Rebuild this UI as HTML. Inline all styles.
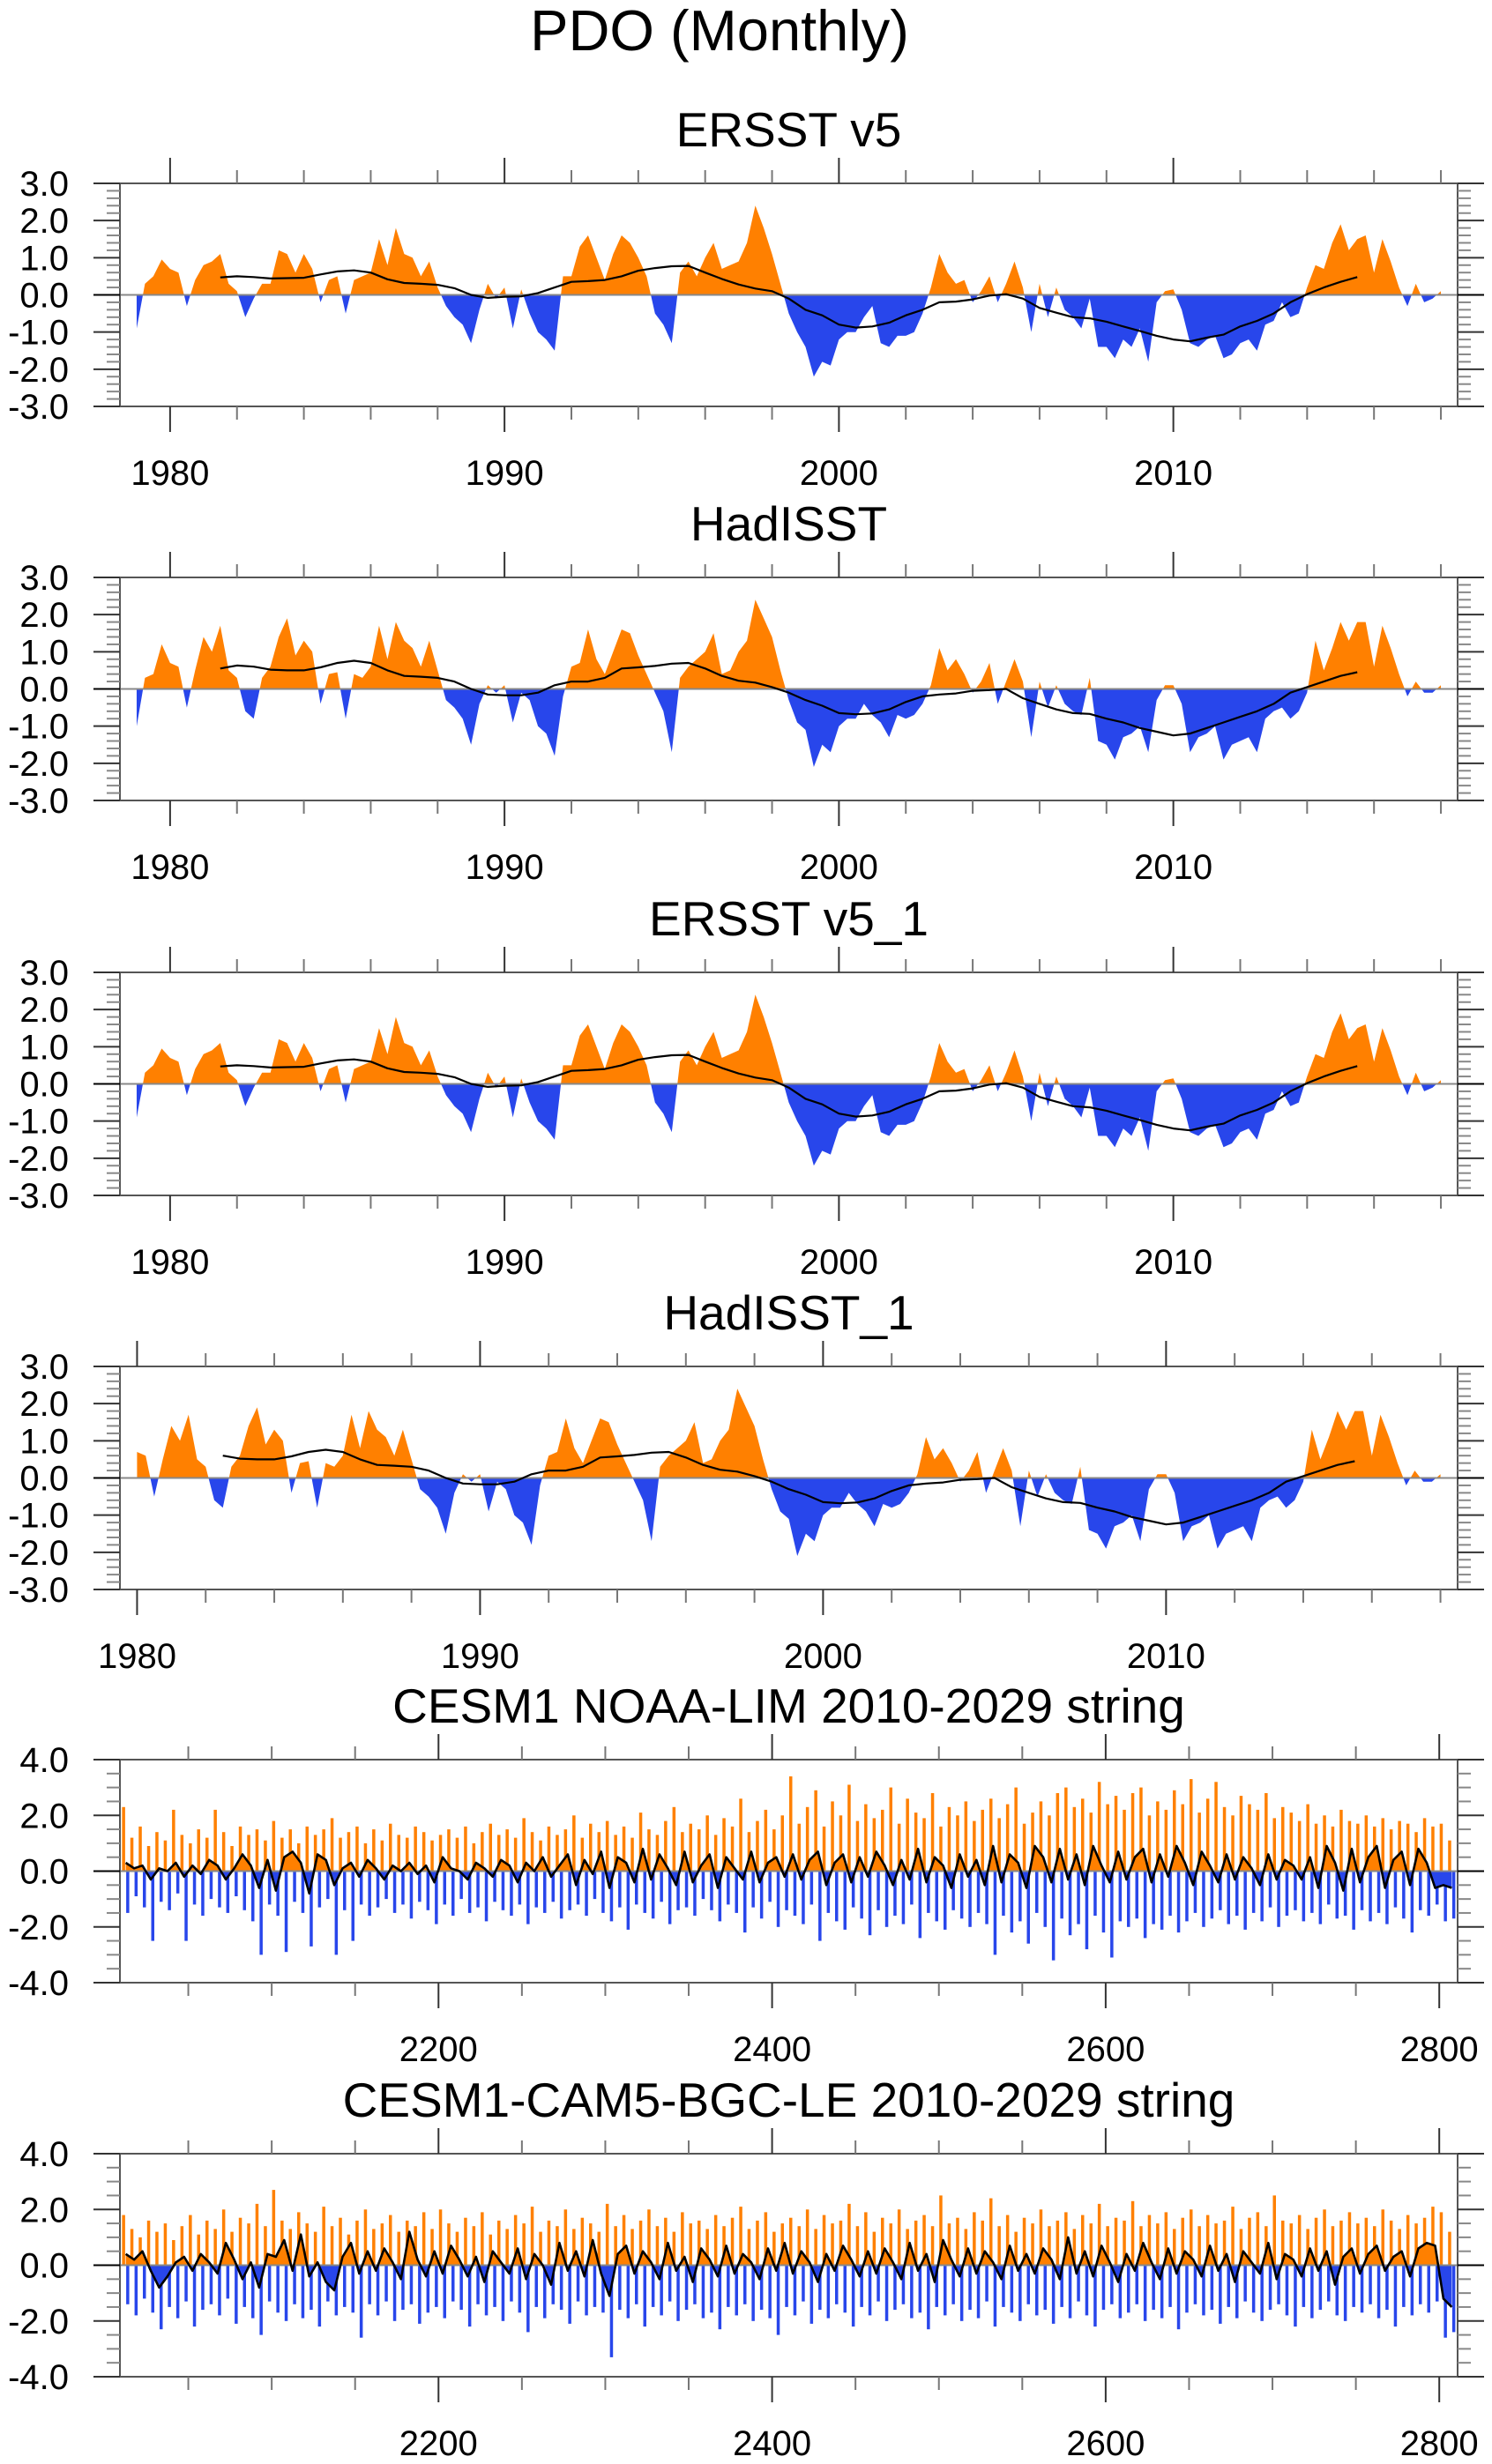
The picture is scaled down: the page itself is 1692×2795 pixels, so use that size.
<!DOCTYPE html>
<html><head><meta charset="utf-8"><title>PDO (Monthly)</title>
<style>html,body{margin:0;padding:0;background:#fff}svg{display:block;font-family:"Liberation Sans",Arial,sans-serif}</style>
</head><body>
<svg id="fig" width="1692" height="2795" viewBox="0 0 1692 2795" xmlns="http://www.w3.org/2000/svg">
<text x="816" y="57" font-size="65" text-anchor="middle" fill="#000">PDO (Monthly)</text>
</svg>
<script>
// ---------- Observational data (quarterly samples, 1979.0 onward) ----------
const ersstStart = 1979.0;
const ersstValues = [-0.9,0.3,0.5,0.95,0.7,0.6,-0.3,0.4,0.8,0.9,1.1,0.3,0.1,-0.6,-0.1,0.3,0.3,1.2,1.1,0.6,1.1,0.7,-0.2,0.4,0.5,-0.5,0.4,0.5,0.6,1.5,0.8,1.8,1.1,1.0,0.5,0.9,0.2,-0.3,-0.6,-0.8,-1.3,-0.4,0.3,-0.1,0.2,-0.9,0.15,-0.5,-1.0,-1.2,-1.5,0.5,0.5,1.3,1.6,1.0,0.4,1.1,1.6,1.4,1.0,0.5,-0.5,-0.8,-1.3,0.6,0.9,0.5,1.0,1.4,0.7,0.8,0.9,1.4,2.4,1.8,1.1,0.3,-0.5,-1.0,-1.4,-2.2,-1.8,-1.9,-1.2,-1.0,-1.0,-0.6,-0.3,-1.3,-1.4,-1.1,-1.1,-1.0,-0.5,0.2,1.1,0.6,0.3,0.4,-0.2,0.1,0.5,-0.2,0.3,0.9,0.2,-1.0,0.3,-0.6,0.2,-0.4,-0.6,-0.9,-0.1,-1.4,-1.4,-1.7,-1.2,-1.4,-0.9,-1.8,-0.2,0.1,0.15,-0.4,-1.3,-1.4,-1.2,-1.1,-1.7,-1.6,-1.3,-1.2,-1.5,-0.8,-0.7,-0.2,-0.6,-0.5,0.2,0.8,0.7,1.4,1.9,1.2,1.5,1.6,0.6,1.5,0.9,0.2,-0.3,0.3,-0.2,-0.1,0.1];
const ersstSmoothStart = 1981.5;
const ersstSmooth = [0.47,0.5,0.48,0.44,0.45,0.46,0.55,0.63,0.66,0.6,0.42,0.32,0.3,0.27,0.18,0.0,-0.08,-0.05,-0.04,0.05,0.2,0.35,0.37,0.4,0.5,0.65,0.72,0.77,0.78,0.6,0.43,0.28,0.17,0.1,-0.1,-0.4,-0.55,-0.8,-0.88,-0.85,-0.75,-0.55,-0.4,-0.2,-0.18,-0.12,-0.02,0.02,-0.1,-0.35,-0.48,-0.6,-0.63,-0.72,-0.85,-0.97,-1.1,-1.2,-1.25,-1.15,-1.07,-0.85,-0.7,-0.5,-0.2,0.02,0.2,0.35,0.48];
const hadStart = 1979.0;
const hadValues = [-1.0,0.3,0.4,1.2,0.7,0.6,-0.5,0.5,1.4,1.0,1.7,0.5,0.3,-0.6,-0.8,0.3,0.6,1.4,1.9,0.9,1.3,1.0,-0.4,0.4,0.45,-0.8,0.4,0.3,0.6,1.7,0.8,1.8,1.3,1.1,0.6,1.3,0.5,-0.3,-0.5,-0.8,-1.5,-0.4,0.1,-0.1,0.1,-0.9,-0.1,-0.3,-1.0,-1.2,-1.8,-0.2,0.6,0.7,1.6,0.8,0.4,1.0,1.6,1.5,0.9,0.4,-0.1,-0.6,-1.7,0.3,0.6,0.8,1.0,1.5,0.4,0.5,1.0,1.3,2.4,1.9,1.4,0.5,-0.3,-0.9,-1.1,-2.1,-1.5,-1.7,-1.0,-0.8,-0.8,-0.4,-0.7,-0.9,-1.3,-0.7,-0.8,-0.7,-0.4,0.1,1.1,0.5,0.8,0.4,-0.1,0.2,0.7,-0.4,0.2,0.8,0.2,-1.3,0.2,-0.5,0.1,-0.4,-0.6,-0.7,0.3,-1.4,-1.5,-1.9,-1.3,-1.2,-1.0,-1.7,-0.3,0.1,0.1,-0.4,-1.7,-1.3,-1.2,-1.0,-1.9,-1.5,-1.4,-1.3,-1.7,-0.8,-0.6,-0.5,-0.8,-0.6,-0.1,1.3,0.5,1.1,1.8,1.3,1.8,1.8,0.6,1.7,1.1,0.4,-0.2,0.2,-0.1,-0.1,0.1];
const hadSmoothStart = 1981.5;
const hadSmooth = [0.55,0.63,0.6,0.52,0.5,0.5,0.58,0.7,0.76,0.7,0.5,0.35,0.33,0.3,0.2,0.0,-0.15,-0.17,-0.17,-0.1,0.1,0.2,0.2,0.3,0.55,0.58,0.62,0.68,0.7,0.55,0.35,0.22,0.17,0.05,-0.1,-0.3,-0.45,-0.65,-0.68,-0.66,-0.55,-0.35,-0.2,-0.15,-0.12,-0.05,-0.03,0.0,-0.25,-0.4,-0.55,-0.65,-0.67,-0.8,-0.9,-1.05,-1.15,-1.25,-1.2,-1.05,-0.9,-0.75,-0.6,-0.4,-0.1,0.05,0.2,0.35,0.45];
const yearTickLabels = ["1980","1990","2000","2010"];
const obsYTickLabels = ["3.0","2.0","1.0","0.0","-1.0","-2.0","-3.0"];

// ---------- Model data (5-year bins from 2010) ----------
const modelStart = 2010;
const limPos = [2.3,1.2,1.6,0.9,1.4,1.1,2.2,1.3,1.0,1.5,1.2,2.2,1.4,0.9,1.6,1.3,1.5,1.1,1.8,1.2,1.5,1.0,1.6,1.3,1.5,1.9,1.2,1.4,1.6,1.0,1.5,1.1,1.7,1.3,1.2,1.6,1.4,1.1,1.3,1.5,
1.2,1.6,1.0,1.4,1.7,1.3,1.5,1.2,1.9,1.4,1.1,1.6,1.3,1.5,2.0,1.2,1.7,1.4,1.8,1.3,1.6,1.2,2.1,1.5,1.3,1.8,2.3,1.4,1.7,1.5,2.0,1.3,1.9,1.6,2.6,1.4,1.8,2.2,1.5,2.0,
3.4,1.7,2.3,2.9,1.6,2.5,2.0,3.1,1.8,2.4,1.9,2.2,3.0,1.7,2.6,2.1,1.9,2.8,1.6,2.3,2.0,2.5,1.8,2.2,2.6,1.9,2.4,3.0,1.7,2.1,2.5,2.0,2.8,3.0,2.3,2.6,2.1,3.2,2.4,2.7,
2.2,2.8,3.0,2.0,2.5,2.2,2.9,2.4,3.3,2.1,2.6,3.2,2.3,2.0,2.7,2.4,2.2,2.8,1.9,2.3,2.1,1.8,2.4,1.7,2.0,1.6,2.2,1.8,1.7,2.0,1.6,1.9,1.5,1.8,1.7,1.4,1.9,1.6,1.7,1.1];
const limNeg = [-1.5,-0.9,-1.3,-2.5,-1.1,-1.4,-0.8,-2.5,-1.2,-1.6,-1.0,-1.3,-1.5,-0.9,-1.4,-1.8,-3.0,-1.2,-1.6,-2.9,-1.1,-1.5,-2.7,-1.3,-1.0,-3.0,-1.4,-2.5,-1.2,-1.6,-1.3,-1.0,-1.5,-1.2,-1.7,-1.1,-1.4,-1.9,-1.2,-1.6,
-1.0,-1.5,-1.3,-1.8,-1.1,-1.4,-1.6,-1.2,-1.9,-1.3,-1.5,-1.1,-1.7,-1.4,-1.2,-1.6,-1.0,-1.5,-1.8,-1.3,-2.1,-1.2,-1.5,-1.7,-1.1,-1.9,-1.4,-1.3,-1.6,-1.0,-1.4,-1.8,-1.2,-1.5,-2.2,-1.3,-1.7,-1.1,-2.0,-1.4,
-1.6,-1.9,-1.2,-2.5,-1.5,-1.8,-2.1,-1.3,-1.7,-2.3,-1.4,-2.0,-1.6,-1.9,-1.2,-2.4,-1.5,-1.8,-2.1,-1.4,-1.7,-2.0,-1.5,-1.9,-3.0,-1.6,-2.2,-1.8,-2.6,-1.5,-2.0,-3.2,-1.7,-2.3,-1.9,-2.8,-1.6,-2.2,-3.1,-1.8,
-2.0,-1.7,-2.4,-1.9,-2.1,-1.6,-2.2,-1.8,-1.5,-2.0,-1.7,-1.4,-1.9,-1.6,-2.1,-1.5,-1.8,-1.3,-2.0,-1.6,-1.4,-1.8,-1.5,-1.9,-1.2,-1.7,-1.6,-2.1,-1.4,-1.8,-1.5,-1.9,-1.3,-1.7,-2.2,-1.4,-1.6,-1.2,-1.8,-1.7];
const limSmooth = [0.3,0.1,0.2,-0.3,0.1,0.0,0.3,-0.2,0.2,-0.1,0.4,0.2,-0.3,0.1,0.6,0.2,-0.6,0.4,-0.7,0.5,0.7,0.3,-0.8,0.6,0.4,-0.5,0.1,0.3,-0.2,0.4,0.1,-0.3,0.2,0.0,0.3,-0.1,0.2,-0.4,0.5,0.1,
0.0,-0.3,0.3,0.1,-0.2,0.4,0.2,-0.4,0.3,0.0,0.5,-0.2,0.2,0.6,-0.5,0.4,-0.1,0.7,-0.6,0.5,0.3,-0.4,0.8,-0.3,0.6,0.1,-0.5,0.7,-0.4,0.2,0.6,-0.6,0.5,0.1,-0.3,0.7,-0.4,0.3,0.5,-0.2,
0.6,-0.3,0.4,0.7,-0.5,0.3,0.6,-0.4,0.5,-0.2,0.7,0.2,-0.5,0.4,-0.3,0.8,-0.4,0.5,0.2,-0.6,0.6,-0.2,0.4,-0.5,0.9,-0.4,0.6,0.3,-0.6,0.9,0.5,-0.4,0.8,-0.3,0.6,-0.5,0.9,0.2,-0.4,0.7,
-0.3,0.5,0.8,-0.4,0.6,-0.2,0.9,0.3,-0.5,0.7,0.2,-0.4,0.6,-0.3,0.5,0.1,-0.5,0.6,-0.3,0.4,0.2,-0.3,0.5,-0.6,0.9,0.3,-0.7,0.8,-0.4,0.5,0.9,-0.6,0.4,0.7,-0.5,0.8,0.3,-0.6,-0.5,-0.6];
const bgcPos = [1.8,1.3,1.0,1.6,1.2,1.5,0.9,1.4,1.8,1.1,1.6,1.3,2.0,1.2,1.7,1.5,2.2,1.4,2.7,1.6,1.3,1.9,1.5,1.2,2.1,1.4,1.7,1.1,1.6,2.0,1.3,1.5,1.8,1.2,1.6,1.4,1.9,1.3,2.0,1.5,
1.2,1.7,1.4,1.9,1.1,1.6,1.3,1.8,1.5,2.1,1.2,1.6,1.4,2.0,1.3,1.7,1.5,1.2,2.2,1.4,1.8,1.3,1.6,2.0,1.4,1.7,1.2,1.9,1.5,1.6,1.3,1.8,1.4,1.7,2.1,1.3,1.6,1.9,1.2,1.5,
1.7,1.4,2.0,1.3,1.8,1.5,1.6,2.2,1.4,1.9,1.2,1.7,1.5,2.0,1.3,1.6,1.8,1.4,2.5,1.5,1.7,1.3,1.9,1.6,2.4,1.4,1.8,1.2,1.7,1.5,2.0,1.4,1.6,1.9,1.3,1.8,1.5,2.2,1.4,1.7,
1.6,2.3,1.4,1.8,1.5,1.9,1.3,1.7,2.0,1.4,1.8,1.5,1.6,2.1,1.3,1.7,1.9,1.4,2.5,1.6,1.5,1.8,1.3,1.7,2.0,1.4,1.6,1.9,1.5,1.7,1.4,2.0,1.6,1.3,1.8,1.5,1.7,2.1,1.9,1.2];
const bgcNeg = [-1.4,-1.8,-1.2,-1.7,-2.3,-1.5,-1.9,-1.3,-2.2,-1.6,-1.4,-1.8,-1.2,-2.1,-1.5,-1.9,-2.5,-1.3,-1.7,-2.0,-1.4,-1.9,-1.6,-2.2,-1.3,-1.8,-1.5,-1.7,-2.6,-1.4,-1.8,-1.3,-2.0,-1.6,-1.4,-2.1,-1.7,-1.5,-1.9,-1.3,
-1.6,-2.2,-1.4,-1.8,-1.5,-2.0,-1.3,-1.7,-2.4,-1.5,-1.9,-1.4,-1.6,-2.1,-1.3,-1.8,-1.5,-1.7,-3.3,-1.6,-1.9,-1.4,-2.2,-1.5,-1.8,-1.3,-2.0,-1.6,-1.4,-1.9,-1.7,-2.3,-1.5,-1.8,-1.4,-2.0,-1.6,-1.9,-2.5,-1.5,
-1.8,-1.3,-2.1,-1.6,-1.9,-1.4,-1.7,-2.2,-1.5,-1.8,-1.3,-2.0,-1.6,-1.4,-1.9,-1.7,-2.3,-1.5,-1.8,-1.4,-2.0,-1.6,-1.9,-1.3,-2.2,-1.5,-1.7,-2.0,-1.4,-1.8,-1.6,-2.1,-1.5,-1.9,-1.3,-1.8,-2.2,-1.6,-1.4,-1.9,
-1.7,-1.4,-2.0,-1.6,-1.9,-1.5,-2.3,-1.7,-1.4,-1.8,-1.6,-2.1,-1.5,-1.9,-1.3,-1.7,-2.0,-1.6,-1.4,-1.8,-2.2,-1.5,-1.9,-1.6,-1.3,-1.8,-2.0,-1.5,-1.7,-1.4,-1.9,-1.6,-2.2,-1.5,-1.8,-1.4,-1.7,-1.3,-2.6,-2.4];
const bgcSmooth = [0.4,0.2,0.5,-0.2,-0.8,-0.4,0.1,0.3,-0.2,0.4,0.1,-0.3,0.8,0.2,-0.5,0.1,-0.8,0.4,0.3,0.9,-0.2,1.1,-0.4,0.1,-0.6,-0.9,0.3,0.8,-0.3,0.5,-0.2,0.6,0.1,-0.5,1.2,0.2,-0.4,0.5,-0.3,0.7,
0.2,-0.4,0.3,-0.6,0.5,0.1,-0.3,0.6,-0.5,0.4,0.0,-0.7,0.8,-0.2,0.5,-0.4,0.9,-0.3,-1.1,0.4,0.7,-0.3,0.5,0.1,-0.5,0.8,-0.2,0.3,-0.6,0.6,0.2,-0.4,0.7,-0.3,0.4,0.1,-0.5,0.6,-0.2,0.8,
-0.3,0.5,0.1,-0.6,0.4,-0.2,0.7,0.2,-0.4,0.5,-0.3,0.6,0.1,-0.5,0.8,-0.2,0.4,-0.6,0.9,0.2,-0.4,0.6,-0.3,0.5,0.1,-0.5,0.7,-0.2,0.4,-0.3,0.6,0.2,-0.5,1.0,-0.3,0.5,-0.4,0.7,0.1,-0.6,
0.4,-0.2,0.8,0.1,-0.5,0.6,-0.3,0.5,0.2,-0.4,0.7,-0.2,0.4,-0.6,0.5,0.1,-0.3,0.8,-0.5,0.4,0.2,-0.4,0.6,-0.2,0.5,-0.7,0.3,0.6,-0.3,0.4,0.7,-0.2,0.3,0.5,-0.4,0.6,0.8,0.7,-1.2,-1.5];
const modelXTickLabels = ["2200","2400","2600","2800"];
const modelYTickLabels = ["4.0","2.0","0.0","-2.0","-4.0"];

const NS = "http://www.w3.org/2000/svg";
const svg = document.getElementById("fig");
const ORANGE = "#FF8000", BLUE = "#2846EB";
const L = 136, R = 1653, H = 253;

function mk(tag, attrs, parent) {
  const e = document.createElementNS(NS, tag);
  for (const k in attrs) e.setAttribute(k, attrs[k]);
  parent.appendChild(e);
  return e;
}

function drawPanel(p) {
  const T = p.top, B = T + H;
  const g = mk("g", {}, svg);
  
  
  const xs = v => L + (v - p.x0) / (p.x1 - p.x0) * (R - L);
  const ys = v => T + (p.y1 - v) / (p.y1 - p.y0) * H;
  const z = ys(0);
  const id = p.name;

  const title = mk("text", {x: (L + R) / 2, y: T - 42, "font-size": 55, "text-anchor": "middle", fill: "#000"}, g);
  
  
  title.textContent = p.title;

  const defs = mk("defs", {}, g);
  const cu = mk("clipPath", {id: id + "-up"}, defs);
  mk("rect", {x: L, y: T, width: R - L, height: z - T}, cu);
  const cd = mk("clipPath", {id: id + "-dn"}, defs);
  mk("rect", {x: L, y: z, width: R - L, height: B - z}, cd);

  if (p.type === "obs") {
    let pts = [];
    p.values.forEach((v, i) => { const t = p.start + i * 0.25; if (t >= p.dataFrom) pts.push([xs(t), ys(v)]); });
    const d = "M" + pts[0][0] + "," + z + " " + pts.map(q => "L" + q[0].toFixed(1) + "," + q[1].toFixed(1)).join(" ") + " L" + pts[pts.length - 1][0] + "," + z + "Z";
    const up = mk("path", {d: d, fill: ORANGE, "clip-path": "url(#" + id + "-up)"}, g);
    
    
    const dn = mk("path", {d: d, fill: BLUE, "clip-path": "url(#" + id + "-dn)"}, g);
    
    
  } else {
    p.pos.forEach((v, i) => {
      const x = xs(p.start + i * 5);
      const r = mk("rect", {x: (x + 0.5).toFixed(1), y: ys(v).toFixed(1), width: 3.5, height: (z - ys(v)).toFixed(1), fill: ORANGE}, g);
      
      
    });
    p.neg.forEach((v, i) => {
      const x = xs(p.start + i * 5 + 2.5);
      const r = mk("rect", {x: (x + 0.5).toFixed(1), y: z, width: 3.5, height: (ys(v) - z).toFixed(1), fill: BLUE}, g);
      
      
    });
    const sp = p.smooth.map((v, i) => [xs(p.start + i * 5 + 2.5), ys(v)]);
    const d = "M" + sp[0][0] + "," + z + " " + sp.map(q => "L" + q[0].toFixed(1) + "," + q[1].toFixed(1)).join(" ") + " L" + sp[sp.length - 1][0] + "," + z + "Z";
    const up = mk("path", {d: d, fill: ORANGE, "clip-path": "url(#" + id + "-up)"}, g);
    
    
    const dn = mk("path", {d: d, fill: BLUE, "clip-path": "url(#" + id + "-dn)"}, g);
    
    
  }

  const zl = mk("line", {x1: L, x2: R, y1: z, y2: z, stroke: "#888", "stroke-width": 2}, g);
  
  

  let lp;
  if (p.type === "obs") lp = p.smooth.map((v, i) => [p.smoothStart + i * 0.5, v]).filter(q => q[0] >= p.smoothFrom).map(q => [xs(q[0]), ys(q[1])]);
  else lp = p.smooth.map((v, i) => [xs(p.start + i * 5 + 2.5), ys(v)]);
  const ln = mk("polyline", {points: lp.map(q => q[0].toFixed(1) + "," + q[1].toFixed(1)).join(" "), fill: "none", stroke: "#000", "stroke-width": p.type === "obs" ? 2.2 : 2.6, "stroke-linejoin": "round"}, g);
  
  

  const box = mk("rect", {x: L, y: T, width: R - L, height: H, fill: "none", stroke: "#555", "stroke-width": 2}, g);
  
  

  for (let v = p.xMinorFrom; v <= p.x1 + 1e-6; v += p.xMinor) {
    const major = Math.abs(((v - p.xMajorFrom) / p.xMajor) - Math.round((v - p.xMajorFrom) / p.xMajor)) < 1e-6 && v >= p.xMajorFrom;
    const x = xs(v), len = major ? 29 : 15;
    mk("line", {x1: x, x2: x, y1: B, y2: B + len, stroke: major ? "#333" : "#777", "stroke-width": 2}, g);
    mk("line", {x1: x, x2: x, y1: T, y2: T - len, stroke: major ? "#333" : "#777", "stroke-width": 2}, g);
  }
  p.xLabels.forEach((lab, i) => {
    const t = mk("text", {x: xs(p.xMajorFrom + i * p.xMajor), y: T + 342, "font-size": 40, "text-anchor": "middle", fill: "#000"}, g);
    
    
    t.textContent = lab;
  });
  const nMinor = Math.round((p.y1 - p.y0) / p.yMinor);
  for (let k = 0; k <= nMinor; k++) {
    const v = p.y0 + k * p.yMinor;
    const major = Math.abs(v / p.yMajor - Math.round(v / p.yMajor)) < 1e-6;
    const y = ys(v), len = major ? 30 : 15;
    const col = Math.abs(v) < 1e-6 ? "#000" : (major ? "#333" : "#888");
    mk("line", {x1: L - len, x2: L, y1: y, y2: y, stroke: col, "stroke-width": 2}, g);
    mk("line", {x1: R, x2: R + len, y1: y, y2: y, stroke: col, "stroke-width": 2}, g);
  }
  p.yLabels.forEach((lab, i) => {
    const t = mk("text", {x: 78, y: ys(p.y1 - i * p.yMajor) + 14, "font-size": 40, "text-anchor": "end", fill: "#000"}, g);
    
    
    t.textContent = lab;
  });
}

const obsBase = {type: "obs", y0: -3, y1: 3, yMajor: 1, yMinor: 0.2, xMajor: 10, xMinor: 2, xMajorFrom: 1980, xLabels: yearTickLabels, yLabels: obsYTickLabels};
drawPanel(Object.assign({}, obsBase, {name: "ersst-v5-panel", title: "ERSST v5", top: 208, x0: 1978.5, x1: 2018.5, xMinorFrom: 1980, values: ersstValues, start: ersstStart, dataFrom: 1979, smooth: ersstSmooth, smoothStart: ersstSmoothStart, smoothFrom: 1981.5}));
drawPanel(Object.assign({}, obsBase, {name: "hadisst-panel", title: "HadISST", top: 655, x0: 1978.5, x1: 2018.5, xMinorFrom: 1980, values: hadValues, start: hadStart, dataFrom: 1979, smooth: hadSmooth, smoothStart: hadSmoothStart, smoothFrom: 1981.5}));
drawPanel(Object.assign({}, obsBase, {name: "ersst-v5-1-panel", title: "ERSST v5_1", top: 1103, x0: 1978.5, x1: 2018.5, xMinorFrom: 1980, values: ersstValues, start: ersstStart, dataFrom: 1979, smooth: ersstSmooth, smoothStart: ersstSmoothStart, smoothFrom: 1981.5}));
drawPanel(Object.assign({}, obsBase, {name: "hadisst-1-panel", title: "HadISST_1", top: 1550, x0: 1979.5, x1: 2018.5, xMinorFrom: 1980, values: hadValues, start: hadStart, dataFrom: 1980, smooth: hadSmooth, smoothStart: hadSmoothStart, smoothFrom: 1982.5}));
const modBase = {type: "model", y0: -4, y1: 4, yMajor: 2, yMinor: 0.5, xMajor: 200, xMinor: 50, xMajorFrom: 2200, xMinorFrom: 2050, x0: 2009, x1: 2811, xLabels: modelXTickLabels, yLabels: modelYTickLabels, start: modelStart};
drawPanel(Object.assign({}, modBase, {name: "cesm1-noaa-lim-panel", title: "CESM1 NOAA-LIM 2010-2029 string", top: 1996, pos: limPos, neg: limNeg, smooth: limSmooth}));
drawPanel(Object.assign({}, modBase, {name: "cesm1-cam5-bgc-le-panel", title: "CESM1-CAM5-BGC-LE 2010-2029 string", top: 2443, pos: bgcPos, neg: bgcNeg, smooth: bgcSmooth}));
</script>
</body></html>
